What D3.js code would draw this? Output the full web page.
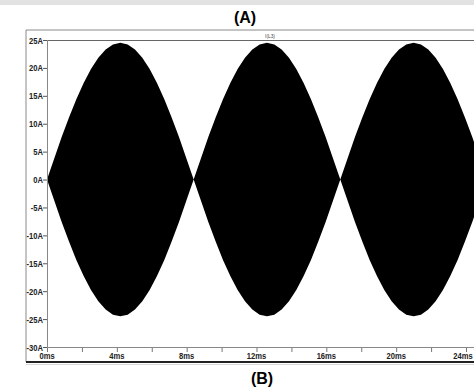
<!DOCTYPE html>
<html>
<head>
<meta charset="utf-8">
<script src="https://cdn.jsdelivr.net/npm/d3@7"></script>
<style>
  html, body { margin: 0; padding: 0; background: #fff; overflow: hidden; }
  text { font-family: "Liberation Sans Narrow", "Arial Narrow", "Liberation Sans", Arial, sans-serif; }
</style>
</head>
<body>
<svg id="chart" width="474" height="389"></svg>
<script>
// envelope of the I(L3) trace (ms, A)
const times = [0, 0.42, 0.84, 1.26, 1.68, 2.10, 2.52, 2.94, 3.36, 3.78, 4.20, 4.62, 5.04, 5.46, 5.88, 6.30, 6.72, 7.14, 7.56, 7.98,
  8.40, 8.82, 9.24, 9.66, 10.08, 10.50, 10.92, 11.34, 11.76, 12.18, 12.60, 13.02, 13.44, 13.86, 14.28, 14.70, 15.12, 15.54, 15.96, 16.38,
  16.80, 17.22, 17.64, 18.06, 18.48, 18.90, 19.32, 19.74, 20.16, 20.58, 21.00, 21.42, 21.84, 22.26, 22.68, 23.10, 23.52, 23.94, 24.36, 24.78,
  25.20];
const envelope = [0, 3.8, 7.6, 11.1, 14.4, 17.3, 19.8, 21.8, 23.3, 24.2, 24.5, 24.2, 23.3, 21.8, 19.8, 17.3, 14.4, 11.1, 7.6, 3.8,
  0, 3.8, 7.6, 11.1, 14.4, 17.3, 19.8, 21.8, 23.3, 24.2, 24.5, 24.2, 23.3, 21.8, 19.8, 17.3, 14.4, 11.1, 7.6, 3.8,
  0, 3.8, 7.6, 11.1, 14.4, 17.3, 19.8, 21.8, 23.3, 24.2, 24.5, 24.2, 23.3, 21.8, 19.8, 17.3, 14.4, 11.1, 7.6, 3.8,
  0];
const yTicks = [25, 20, 15, 10, 5, 0, -5, -10, -15, -20, -25, -30];
const xLabelTicks = [0, 4, 8, 12, 16, 20, 24];
const xMinorTicks = [0, 2, 4, 6, 8, 10, 12, 14, 16, 18, 20, 22, 24];
const traceName = 'I(L3)';

const svg = d3.select('#chart');
const W = 474;
const narrow = 0.8; // squeeze labels like the condensed font of the original

const x = d3.scaleLinear().domain([0, 24]).range([47, 466]);
const y = d3.scaleLinear().domain([-30, 25]).range([347, 40]);

// screenshot strip at the top
svg.append('rect').attr('x', 0).attr('y', 0).attr('width', W).attr('height', 5).attr('fill', '#e2e2e2');

svg.append('text')
  .attr('x', 245).attr('y', 23)
  .attr('text-anchor', 'middle')
  .style('font-family', 'Liberation Sans, Arial, sans-serif')
  .attr('font-weight', 'bold').attr('font-size', 16)
  .text('(A)');

// outer window frame
svg.append('line').attr('x1', 26).attr('x2', W + 5).attr('y1', 30).attr('y2', 30)
  .attr('stroke', '#8a8a8a').attr('stroke-width', 1);
svg.append('line').attr('x1', 26).attr('x2', 26).attr('y1', 30).attr('y2', 362)
  .attr('stroke', '#8a8a8a').attr('stroke-width', 1);
svg.append('line').attr('x1', 26).attr('x2', W + 5).attr('y1', 362).attr('y2', 362)
  .attr('stroke', '#222').attr('stroke-width', 2);
svg.append('line').attr('x1', 26).attr('x2', W + 5).attr('y1', 364.5).attr('y2', 364.5)
  .attr('stroke', '#d8d8d8').attr('stroke-width', 1);

// trace name
svg.append('text')
  .attr('transform', `translate(270,37.5) scale(${narrow},1)`)
  .attr('text-anchor', 'middle')
  .attr('font-size', 6).attr('fill', '#444')
  .text(traceName);

// clip for the plot area
svg.append('clipPath').attr('id', 'plot')
  .append('rect').attr('x', 47).attr('y', 40).attr('width', W - 47).attr('height', 307);

const area = d3.area()
  .x((d, i) => x(times[i]))
  .y0((d) => y(-d))
  .y1((d) => y(d));

svg.append('path')
  .datum(envelope)
  .attr('clip-path', 'url(#plot)')
  .attr('fill', '#000')
  .attr('d', area);

// inner plot box
svg.append('line').attr('x1', 47).attr('x2', W + 5).attr('y1', 40.5).attr('y2', 40.5)
  .attr('stroke', '#666').attr('stroke-width', 1);
svg.append('line').attr('x1', 47.5).attr('x2', 47.5).attr('y1', 40).attr('y2', 347)
  .attr('stroke', '#888').attr('stroke-width', 1);
svg.append('line').attr('x1', 47).attr('x2', W + 5).attr('y1', 347.5).attr('y2', 347.5)
  .attr('stroke', '#888').attr('stroke-width', 1);

// y axis
const yAxis = svg.append('g');
yAxis.selectAll('line').data(yTicks).enter().append('line')
  .attr('x1', 43).attr('x2', 47)
  .attr('y1', (d) => y(d) + 0.5).attr('y2', (d) => y(d) + 0.5)
  .attr('stroke', '#555');
yAxis.selectAll('text').data(yTicks).enter().append('text')
  .attr('transform', (d) => `translate(43,${y(d) + 3.5}) scale(${narrow},1)`)
  .attr('text-anchor', 'end')
  .attr('font-size', 9.5).attr('font-weight', 'bold').attr('fill', '#222')
  .text((d) => d + 'A');

// x axis
const xAxis = svg.append('g');
xAxis.selectAll('line').data(xMinorTicks).enter().append('line')
  .attr('x1', (d) => x(d) + 0.5).attr('x2', (d) => x(d) + 0.5)
  .attr('y1', 348).attr('y2', 352)
  .attr('stroke', '#777');
xAxis.selectAll('text').data(xLabelTicks).enter().append('text')
  .attr('transform', (d) => `translate(${Math.min(x(d), 463)},359) scale(${narrow},1)`)
  .attr('text-anchor', 'middle')
  .attr('font-size', 9.5).attr('font-weight', 'bold').attr('fill', '#222')
  .text((d) => d + 'ms');

svg.append('text')
  .attr('x', 262).attr('y', 384)
  .attr('text-anchor', 'middle')
  .style('font-family', 'Liberation Sans, Arial, sans-serif')
  .attr('font-weight', 'bold').attr('font-size', 16)
  .text('(B)');
</script>
</body>
</html>
